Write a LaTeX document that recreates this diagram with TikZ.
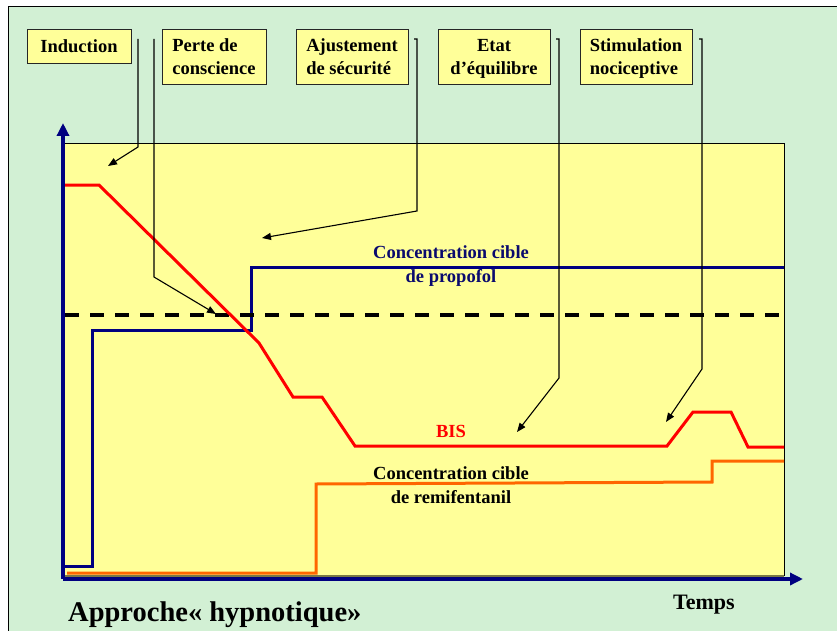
\documentclass[tikz,border=0pt]{standalone}
\usepackage{fontspec}
\setmainfont{Liberation Serif}
\usetikzlibrary{arrows.meta}

\definecolor{bgGreen}{RGB}{210,240,212}
\definecolor{plotYellow}{RGB}{255,255,153}
\definecolor{axisNavy}{RGB}{0,0,128}
\definecolor{labelNavy}{RGB}{10,10,110}
\definecolor{bisRed}{RGB}{255,0,0}
\definecolor{remiOrange}{RGB}{255,102,0}
\definecolor{shadowOlive}{RGB}{120,120,70}

\begin{document}
\begin{tikzpicture}[x=1pt,y=-1pt,
  phasebox/.style={draw=black!85, line width=0.8pt, fill=plotYellow, inner sep=0pt,
    font=\fontsize{18.5}{23}\selectfont\bfseries, minimum height=55pt},
  lbl/.style={font=\fontsize{18.5}{23}\selectfont\bfseries, inner sep=0pt, anchor=base},
  axisline/.style={draw=axisNavy, line width=3.5pt, -{Triangle[length=13pt,width=12pt]}},
  curve/.style={line width=3pt},
  callout/.style={draw=black, line width=1.1pt, -{Triangle[length=9pt,width=7pt]}}
]
% page and frame
\useasboundingbox (0,0) rectangle (837,631);
\clip (0,0) rectangle (837,631);
\fill[white] (0,0) rectangle (837,631);
\draw[fill=bgGreen, line width=1pt] (8,7) rectangle (850,645);

% plotting area
\fill[plotYellow] (65,143) rectangle (784,576);
\draw[line width=0.8pt] (65,143) -- (784,143) -- (784,576);
\draw[shadowOlive, line width=1.5pt] (65,576) -- (784,576);

% target concentration of propofol
\draw[curve, axisNavy] (65,566) -- (92,566) -- (92,330) -- (251,330) -- (251,267) -- (784,267);
% safety threshold
\draw[black, line width=4pt, dash pattern=on 14pt off 11pt] (65,315) -- (784,315);
% target concentration of remifentanil
\draw[curve, remiOrange] (67,573) -- (316,573) -- (316,484) -- (712,482) -- (712,461) -- (784,461);
% BIS trace
\draw[curve, bisRed] (65,185) -- (99,185) -- (259,343) -- (293,397) -- (322,397) -- (355,446)
  -- (667,446) -- (693,412) -- (731,412) -- (748,447) -- (784,447);

% axes
\coordinate (origin) at (63,579);
\coordinate (ytip) at (63,123);
\coordinate (xtip) at (803,579);
\draw[axisline] (origin) -- (ytip);
\draw[axisline] (origin) -- (xtip);

% phase boxes (second lines with descenders are smashed so all boxes share the same baselines)
\node[phasebox, minimum width=104pt, minimum height=34pt] (induction) at (79,46) {Induction};
\node[phasebox, minimum width=104pt, align=left] (perte) at (214,56.5) {Perte de\\conscience};
\node[phasebox, minimum width=112pt, align=left] (ajust) at (352,56.5) {Ajustement\\de sécurité};
\node[phasebox, minimum width=112pt, align=center] (etat) at (494,56.5) {Etat\\\smash{d’équilibre}};
\node[phasebox, minimum width=112pt, align=left] (stim) at (636,56.5) {Stimulation\\\smash{nociceptive}};

% callout routes
\coordinate (indS) at (138,39);  \coordinate (indB) at (138,147); \coordinate (indT) at (108,166);
\coordinate (perS) at (154,39);  \coordinate (perB) at (154,277); \coordinate (perT) at (216,314);
\coordinate (ajuH) at (414,39);  \coordinate (ajuS) at (417,39);  \coordinate (ajuB) at (417,211); \coordinate (ajuT) at (262,238);
\coordinate (etaH) at (556,39);  \coordinate (etaS) at (559,39);  \coordinate (etaB) at (559,378); \coordinate (etaT) at (517,432);
\coordinate (stiH) at (699,39);  \coordinate (stiS) at (702,39);  \coordinate (stiB) at (702,369); \coordinate (stiT) at (666,422);

\draw[callout] (indS) -- (indB) -- (indT);
\draw[callout] (perS) -- (perB) -- (perT);
\draw[callout] (ajuH) -- (ajuS) -- (ajuB) -- (ajuT);
\draw[callout] (etaH) -- (etaS) -- (etaB) -- (etaT);
\draw[callout] (stiH) -- (stiS) -- (stiB) -- (stiT);

% curve labels
\node[lbl, text=labelNavy] (propA) at (451,258) {Concentration cible};
\node[lbl, text=labelNavy] (propB) at (451,282) {de propofol};
\node[lbl, text=bisRed] (bis) at (451,437) {BIS};
\node[lbl] (remiA) at (451,479) {Concentration cible};
\node[lbl] (remiB) at (451,503) {de remifentanil};

% axis and title text
\node[inner sep=0pt, anchor=base west, font=\fontsize{22}{26}\selectfont\bfseries] (temps) at (673,609) {Temps};
\node[inner sep=0pt, anchor=base west, font=\fontsize{28.5}{33}\selectfont\bfseries] (titre) at (68,621) {Approche« hypnotique»};
\end{tikzpicture}
\end{document}
